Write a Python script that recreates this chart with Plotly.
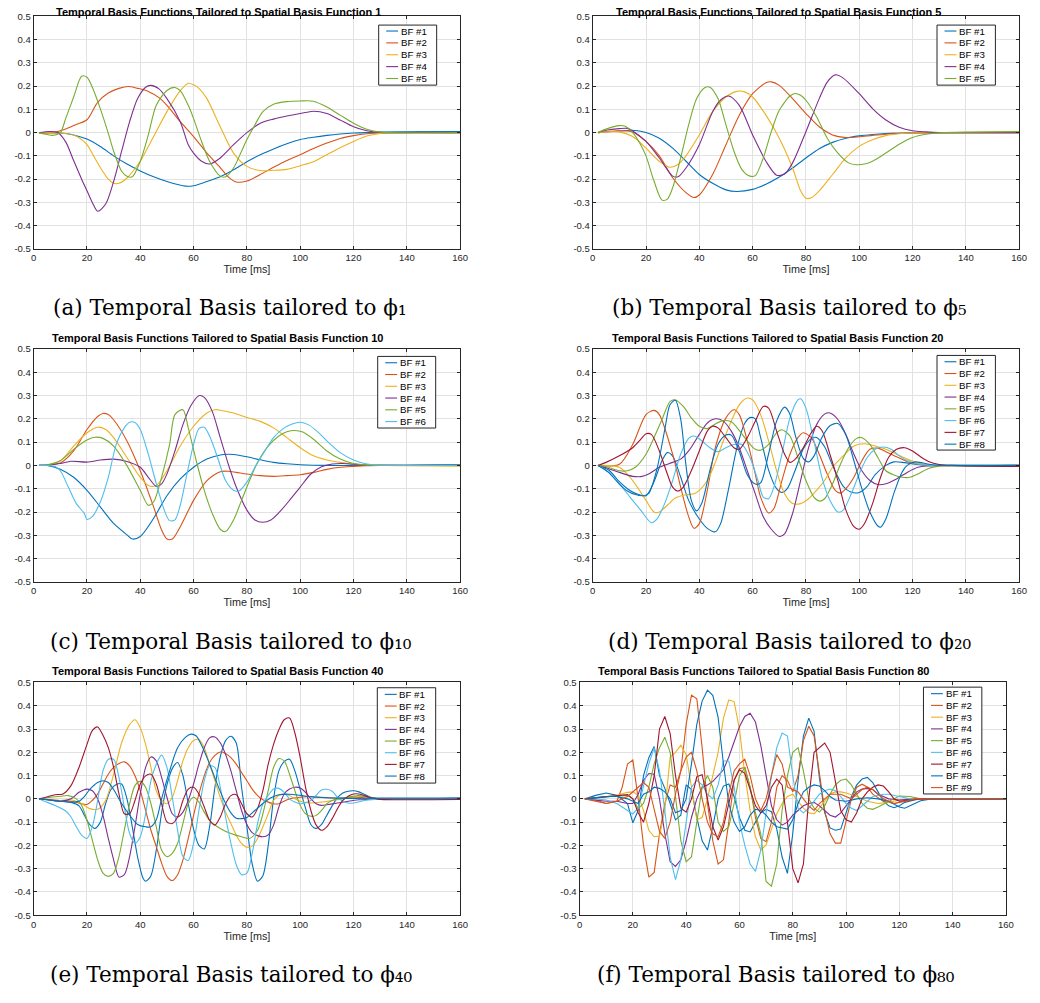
import plotly.graph_objects as go

# ---------------------------------------------------------------------------
# Temporal basis functions (time in ms, amplitude), one list per basis function
# ---------------------------------------------------------------------------

# Spatial basis function 1
a_bf1 = [(2,0),(10,-0.002),(15,-0.01),(20,-0.028),(25,-0.06),(30,-0.1),(35,-0.135),(40,-0.165),(45,-0.19),(50,-0.21),(57,-0.23),(60,-0.228),(65,-0.21),(70,-0.19),(75,-0.16),(80,-0.125),(85,-0.095),(90,-0.07),(95,-0.048),(100,-0.03),(105,-0.02),(110,-0.012),(115,-0.006),(120,-0.002),(130,0.002),(145,0.004),(160,0.004)]
a_bf2 = [(2,0),(8,0.002),(12,0.015),(16,0.035),(20,0.055),(24,0.13),(28,0.17),(32,0.19),(35.5,0.198),(39,0.19),(43,0.177),(47,0.15),(50,0.117),(55,0.047),(60,-0.017),(65,-0.088),(70,-0.15),(73,-0.19),(76,-0.212),(80,-0.208),(85,-0.18),(90,-0.149),(95,-0.12),(100,-0.095),(105,-0.068),(110,-0.045),(115,-0.025),(120,-0.013),(125,-0.005),(130,-0.001),(160,0)]
a_bf3 = [(2,0),(10,-0.002),(15,-0.01),(18,-0.03),(20,-0.052),(23,-0.11),(25,-0.15),(28,-0.2),(30,-0.218),(32,-0.218),(35,-0.195),(38,-0.155),(40,-0.123),(45,-0.017),(50,0.09),(55,0.18),(58,0.212),(60,0.205),(62,0.19),(65,0.146),(70,0.025),(75,-0.088),(80,-0.145),(85,-0.163),(90,-0.162),(95,-0.158),(100,-0.142),(105,-0.125),(110,-0.095),(115,-0.065),(120,-0.038),(125,-0.015),(130,-0.004),(135,0),(160,0)]
a_bf4 = [(2,0),(6,0.005),(9,0.0),(12,-0.04),(15,-0.12),(18,-0.2),(20,-0.25),(22,-0.3),(24,-0.338),(27,-0.307),(30,-0.21),(33,-0.08),(36,0.047),(39,0.146),(42,0.195),(44,0.203),(47,0.188),(50,0.146),(55,0.047),(58,-0.052),(60,-0.088),(63,-0.123),(66,-0.135),(70,-0.109),(75,-0.052),(80,0.0),(85,0.04),(90,0.058),(95,0.071),(100,0.082),(105,0.092),(110,0.082),(115,0.054),(120,0.025),(125,0.008),(130,0.001),(160,0)]
a_bf5 = [(2,0),(5,-0.008),(7,-0.012),(10,0.0),(12,0.06),(15,0.153),(18,0.242),(20,0.238),(22,0.195),(25,0.103),(28,-0.003),(30,-0.08),(33,-0.166),(35,-0.187),(37,-0.19),(40,-0.123),(43,-0.01),(46,0.117),(50,0.181),(53,0.194),(55,0.18),(58,0.117),(60,0.06),(63,-0.038),(66,-0.123),(70,-0.187),(72,-0.19),(75,-0.152),(78,-0.08),(80,-0.03),(83,0.033),(86,0.09),(90,0.122),(95,0.133),(100,0.136),(105,0.135),(110,0.11),(115,0.075),(120,0.04),(125,0.014),(130,0.002),(160,0)]

# Spatial basis function 5
b_bf1 = [(2,0),(10,0.007),(15,0.01),(20,0.0),(25,-0.024),(30,-0.067),(35,-0.123),(40,-0.18),(45,-0.218),(50,-0.246),(54,-0.253),(60,-0.244),(65,-0.222),(70,-0.191),(75,-0.152),(80,-0.109),(85,-0.069),(90,-0.042),(95,-0.024),(100,-0.014),(105,-0.008),(110,-0.004),(120,-0.001),(130,0),(160,0)]
b_bf2 = [(2,0),(10,0.008),(15,0.003),(20,-0.038),(25,-0.1),(30,-0.194),(35,-0.258),(38,-0.279),(40,-0.268),(45,-0.18),(50,-0.052),(55,0.075),(60,0.167),(65,0.214),(67,0.218),(70,0.203),(75,0.146),(80,0.082),(85,0.025),(90,-0.01),(95,-0.021),(100,-0.018),(105,-0.012),(110,-0.007),(120,-0.002),(130,0),(160,0)]
b_bf3 = [(2,0),(10,0.003),(15,-0.017),(20,-0.067),(25,-0.123),(29,-0.149),(32,-0.137),(35,-0.1),(40,-0.01),(45,0.09),(50,0.153),(54,0.177),(57,0.175),(60,0.153),(65,0.075),(70,-0.024),(75,-0.152),(78,-0.25),(80,-0.282),(82,-0.28),(85,-0.25),(90,-0.18),(95,-0.109),(100,-0.059),(105,-0.031),(110,-0.013),(115,-0.005),(120,-0.002),(130,0),(160,0)]
b_bf4 = [(2,0),(5,0.01),(10,0.017),(13,0.018),(15,0.007),(20,-0.038),(25,-0.109),(30,-0.187),(32,-0.19),(35,-0.152),(40,-0.052),(45,0.09),(48,0.14),(51,0.157),(55,0.117),(60,-0.01),(65,-0.123),(69,-0.183),(72,-0.178),(75,-0.13),(80,0.004),(85,0.146),(88,0.217),(91,0.248),(94,0.234),(100,0.167),(105,0.103),(110,0.054),(115,0.023),(120,0.008),(125,0.003),(130,0),(160,0)]
b_bf5 = [(2,0),(5,0.015),(10,0.03),(12,0.028),(15,0.0),(18,-0.052),(20,-0.1),(23,-0.208),(26,-0.29),(28,-0.286),(30,-0.237),(33,-0.109),(36,0.033),(39,0.146),(42,0.193),(44,0.195),(47,0.146),(50,0.033),(53,-0.08),(56,-0.159),(59,-0.187),(61,-0.185),(64,-0.109),(67,0.004),(70,0.096),(74,0.157),(76,0.168),(78,0.16),(80,0.139),(84,0.068),(88,-0.024),(92,-0.088),(96,-0.13),(99,-0.138),(102,-0.135),(105,-0.123),(110,-0.088),(115,-0.05),(120,-0.021),(125,-0.007),(130,-0.001),(160,0.004)]

# Spatial basis function 10
c_bf1 = [(2,0),(5,0),(10,-0.016),(15,-0.051),(20,-0.107),(25,-0.178),(30,-0.249),(35,-0.298),(37,-0.316),(40,-0.305),(45,-0.227),(50,-0.13),(55,-0.058),(60,-0.008),(65,0.027),(70,0.045),(73,0.048),(75,0.047),(80,0.037),(85,0.024),(90,0.013),(95,0.007),(100,0.003),(110,0.0),(160,0.004)]
c_bf2 = [(2,0),(5,0.002),(10,0.01),(15,0.062),(20,0.154),(24,0.21),(26,0.223),(28,0.218),(30,0.196),(35,0.105),(40,-0.023),(45,-0.178),(48,-0.277),(50,-0.316),(52,-0.316),(55,-0.263),(60,-0.15),(65,-0.065),(70,-0.027),(73,-0.025),(76,-0.03),(80,-0.037),(85,-0.044),(90,-0.047),(95,-0.044),(100,-0.04),(105,-0.03),(110,-0.017),(115,-0.008),(120,-0.004),(125,-0.001),(130,0),(160,0)]
c_bf3 = [(2,0),(5,0.003),(10,0.02),(15,0.083),(20,0.14),(24,0.164),(27,0.154),(30,0.119),(35,0.034),(40,-0.051),(43,-0.086),(46,-0.086),(50,-0.023),(55,0.083),(60,0.168),(65,0.225),(68,0.239),(70,0.237),(75,0.225),(80,0.206),(85,0.189),(90,0.161),(95,0.119),(100,0.076),(105,0.041),(110,0.023),(115,0.013),(120,0.006),(125,0.002),(130,0),(160,-0.003)]
c_bf4 = [(2,0),(5,0.002),(10,0.008),(14,0.018),(20,0.014),(25,0.023),(30,0.027),(35,0.017),(40,-0.008),(43,-0.051),(46,-0.09),(48,-0.079),(50,-0.037),(53,0.062),(56,0.175),(59,0.257),(62,0.299),(64,0.292),(67,0.232),(70,0.119),(73,0.006),(76,-0.093),(80,-0.192),(83,-0.234),(86,-0.244),(89,-0.234),(92,-0.203),(96,-0.15),(100,-0.093),(104,-0.037),(108,-0.006),(112,0.006),(116,0.008),(120,0.005),(125,0.002),(130,0),(160,0)]
c_bf5 = [(2,0),(5,0.002),(10,0.02),(15,0.069),(20,0.109),(23,0.121),(26,0.116),(30,0.083),(35,-0.001),(40,-0.107),(43,-0.171),(45,-0.157),(48,-0.051),(51,0.09),(53,0.218),(56,0.239),(58,0.161),(61,0.02),(64,-0.107),(67,-0.206),(70,-0.274),(72,-0.284),(75,-0.234),(78,-0.15),(81,-0.065),(84,0.013),(88,0.083),(92,0.126),(95,0.144),(98,0.15),(101,0.143),(105,0.112),(110,0.062),(115,0.027),(120,0.008),(125,0.002),(130,0),(160,0)]
c_bf6 = [(2,0),(5,0),(8,-0.005),(10,-0.023),(13,-0.093),(16,-0.164),(19,-0.206),(20,-0.232),(22,-0.22),(25,-0.157),(28,-0.051),(31,0.09),(34,0.161),(36,0.185),(38,0.184),(40,0.154),(43,0.048),(46,-0.078),(49,-0.192),(51,-0.237),(53,-0.234),(55,-0.171),(57,-0.065),(60,0.09),(62,0.158),(64,0.164),(66,0.126),(69,0.034),(72,-0.065),(75,-0.107),(77,-0.11),(80,-0.072),(83,-0.008),(86,0.048),(90,0.119),(94,0.161),(97,0.178),(100,0.185),(103,0.175),(107,0.14),(110,0.105),(115,0.055),(120,0.023),(125,0.006),(130,0.001),(160,0)]

# Spatial basis function 20
d_bf1 = [(2,0),(6,-0.02),(10,-0.07),(13,-0.1),(16,-0.12),(20,-0.13),(23,-0.07),(26,0.02),(28,0.055),(30,0.04),(33,-0.05),(36,-0.15),(40,-0.23),(43,-0.27),(46,-0.285),(48,-0.25),(51,-0.1),(54,0.07),(57,0.18),(59,0.205),(61,0.2),(63,0.12),(66,-0.02),(69,-0.1),(71,-0.116),(73,-0.1),(76,-0.02),(79,0.07),(82,0.115),(84,0.12),(87,0.08),(90,0.0),(94,-0.09),(97,-0.115),(100,-0.116),(103,-0.09),(106,-0.04),(110,0.0),(113,0.015),(117,0.012),(121,0.005),(126,0),(160,0)]
d_bf2 = [(2,0),(10,0.005),(15,0.09),(20,0.218),(23,0.236),(25,0.218),(30,0.048),(33,-0.093),(36,-0.22),(38,-0.27),(40,-0.25),(43,-0.107),(46,0.076),(50,0.204),(53,0.239),(55,0.218),(58,0.105),(61,-0.037),(63,-0.136),(66,-0.204),(68,-0.185),(71,-0.065),(74,0.048),(77,0.119),(79,0.14),(82,0.119),(85,0.048),(88,-0.037),(91,-0.107),(93,-0.119),(95,-0.1),(98,-0.051),(101,0.02),(104,0.069),(107,0.074),(110,0.059),(114,0.037),(118,0.016),(122,0.006),(126,0.002),(130,0),(160,-0.005)]
d_bf3 = [(2,0),(10,-0.008),(15,-0.065),(20,-0.15),(23,-0.2),(25,-0.2),(28,-0.171),(31,-0.14),(35,-0.126),(38,-0.122),(40,-0.107),(43,-0.065),(46,0.013),(49,0.105),(52,0.19),(55,0.26),(58,0.289),(60,0.281),(63,0.218),(66,0.105),(69,-0.023),(72,-0.122),(75,-0.164),(78,-0.164),(81,-0.143),(84,-0.107),(87,-0.065),(90,-0.008),(94,0.041),(98,0.083),(102,0.093),(106,0.083),(110,0.069),(114,0.048),(118,0.027),(122,0.01),(126,0.003),(130,0),(160,0)]
d_bf4 = [(2,0),(5,-0.01),(10,-0.03),(15,-0.047),(18,-0.048),(21,-0.037),(25,-0.008),(30,0.013),(33,0.027),(36,0.062),(40,0.133),(43,0.182),(46,0.2),(49,0.19),(52,0.147),(55,0.076),(58,-0.023),(61,-0.122),(64,-0.22),(67,-0.274),(70,-0.305),(72,-0.294),(75,-0.206),(78,-0.065),(81,0.076),(84,0.175),(87,0.22),(89,0.225),(92,0.197),(95,0.133),(98,0.048),(101,-0.023),(104,-0.065),(107,-0.082),(110,-0.079),(114,-0.058),(118,-0.03),(122,-0.008),(126,-0.002),(130,0),(160,0)]
d_bf5 = [(2,0),(5,-0.005),(10,-0.023),(13,-0.023),(16,-0.008),(20,0.048),(23,0.119),(26,0.197),(29,0.274),(31,0.281),(34,0.253),(37,0.204),(40,0.168),(43,0.158),(46,0.178),(49,0.192),(52,0.187),(55,0.15),(58,0.105),(61,0.069),(63,0.065),(66,0.09),(69,0.14),(71,0.153),(74,0.126),(77,0.034),(80,-0.065),(83,-0.136),(85,-0.153),(87,-0.143),(90,-0.079),(93,0.006),(96,0.076),(99,0.116),(101,0.119),(104,0.09),(107,0.034),(110,-0.023),(113,-0.041),(116,-0.051),(119,-0.051),(122,-0.037),(126,-0.013),(130,-0.003),(135,0),(160,0)]
d_bf6 = [(2,0),(5,-0.02),(10,-0.079),(14,-0.136),(18,-0.192),(22,-0.246),(24,-0.232),(27,-0.164),(30,-0.065),(33,0.048),(36,0.116),(38,0.126),(41,0.105),(44,0.076),(47,0.059),(50,0.076),(53,0.09),(56,0.09),(59,0.034),(62,-0.065),(64,-0.136),(66,-0.143),(68,-0.093),(71,0.048),(74,0.204),(77,0.281),(78,0.286),(80,0.246),(83,0.105),(86,-0.051),(89,-0.15),(92,-0.2),(94,-0.192),(97,-0.122),(100,-0.037),(103,0.034),(106,0.069),(109,0.079),(112,0.069),(115,0.041),(118,0.02),(122,0.006),(126,0.001),(130,0),(160,0)]
d_bf7 = [(2,0),(5,0.013),(10,0.041),(15,0.076),(18,0.112),(20,0.136),(22,0.133),(25,0.062),(28,-0.037),(30,-0.093),(32,-0.11),(34,-0.093),(37,-0.023),(40,0.062),(43,0.147),(45,0.168),(47,0.161),(50,0.119),(53,0.076),(55,0.069),(58,0.119),(61,0.19),(64,0.253),(66,0.246),(69,0.147),(72,0.048),(74,0.013),(76,0.027),(79,0.076),(82,0.14),(84,0.168),(86,0.15),(89,0.048),(92,-0.065),(95,-0.192),(98,-0.263),(100,-0.274),(102,-0.249),(105,-0.164),(108,-0.051),(111,0.034),(114,0.069),(117,0.076),(120,0.062),(123,0.037),(126,0.017),(130,0.004),(135,0),(160,-0.005)]
d_bf8 = [(2,0),(6,-0.03),(10,-0.08),(13,-0.11),(16,-0.125),(19,-0.13),(21,-0.12),(24,-0.02),(27,0.15),(29,0.26),(31,0.28),(33,0.2),(35,0.0),(37,-0.15),(39,-0.195),(41,-0.16),(44,-0.02),(47,0.09),(50,0.13),(52,0.13),(55,0.06),(58,-0.04),(61,-0.08),(63,-0.075),(66,0.05),(69,0.19),(72,0.25),(74,0.22),(76,0.13),(79,0.03),(81,0.015),(83,0.04),(86,0.12),(89,0.17),(92,0.18),(95,0.13),(98,0.02),(101,-0.1),(104,-0.2),(107,-0.26),(108,-0.265),(110,-0.23),(113,-0.12),(116,-0.03),(118,0.0),(121,0.015),(124,0.01),(128,0.002),(160,0)]

# Spatial basis function 40
e_bf1 = [(2,0),(6,-0.005),(10,-0.01),(14,-0.015),(17,-0.03),(19,-0.07),(21,-0.11),(23,-0.127),(25,-0.1),(27,-0.02),(29,0.04),(31,0.062),(33,0.064),(35,0.0),(37,-0.12),(39,-0.25),(41,-0.34),(42,-0.354),(44,-0.33),(46,-0.22),(48,-0.06),(50,0.06),(52,0.13),(54,0.156),(56,0.1),(58,-0.02),(60,-0.13),(62,-0.2),(64,-0.215),(66,-0.12),(68,0.05),(70,0.18),(72,0.25),(74,0.269),(76,0.24),(78,0.05),(80,-0.12),(82,-0.28),(84,-0.354),(86,-0.33),(88,-0.2),(90,0.0),(92,0.12),(94,0.16),(96,0.17),(98,0.12),(100,0.04),(102,-0.04),(104,-0.11),(106,-0.127),(108,-0.11),(110,-0.07),(112,-0.03),(114,0.005),(116,0.025),(118,0.033),(120,0.035),(122,0.03),(124,0.02),(127,0.005),(130,0.0),(160,0.003)]
e_bf2 = [(2,0),(5,-0.003),(10,-0.007),(14,-0.01),(17,-0.018),(20,-0.024),(22,-0.007),(24,0.021),(26,0.064),(28,0.106),(30,0.135),(32,0.152),(34,0.159),(36,0.142),(38,0.099),(40,0.035),(42,-0.05),(44,-0.135),(46,-0.205),(48,-0.276),(50,-0.333),(52,-0.351),(54,-0.326),(56,-0.262),(58,-0.17),(60,-0.071),(62,0.021),(64,0.099),(66,0.156),(68,0.187),(70,0.201),(72,0.195),(74,0.177),(76,0.149),(78,0.113),(80,0.078),(82,0.042),(84,0.014),(86,-0.004),(88,-0.014),(90,-0.021),(92,-0.021),(94,-0.01),(96,0.0),(100,0.007),(104,0.01),(108,0.007),(112,0.004),(116,0.003),(120,0.007),(124,0.005),(128,0.001),(132,0),(160,0)]
e_bf3 = [(2,0),(5,-0.002),(10,-0.007),(14,-0.004),(18,-0.021),(21,-0.042),(24,-0.045),(27,-0.007),(30,0.106),(33,0.241),(36,0.319),(38,0.34),(40,0.305),(42,0.234),(44,0.135),(46,0.035),(48,-0.007),(50,-0.021),(52,0.007),(54,0.078),(56,0.163),(58,0.22),(60,0.251),(62,0.255),(64,0.22),(66,0.149),(68,0.078),(70,0.007),(72,-0.057),(74,-0.106),(76,-0.156),(78,-0.191),(80,-0.208),(82,-0.203),(84,-0.17),(86,-0.12),(88,-0.064),(90,-0.007),(92,0.014),(94,0.021),(96,0.014),(98,0.0),(100,-0.01),(104,-0.018),(108,-0.014),(112,-0.007),(116,0.0),(120,0.007),(124,0.01),(128,0.003),(132,0),(160,0)]
e_bf4 = [(2,0),(5,-0.003),(10,-0.01),(14,0.0),(17,0.028),(20,0.042),(22,0.035),(24,0.0),(26,-0.071),(28,-0.17),(30,-0.262),(32,-0.336),(34,-0.326),(36,-0.248),(38,-0.12),(40,0.021),(42,0.135),(44,0.18),(46,0.163),(48,0.092),(50,0.007),(52,-0.064),(54,-0.078),(56,-0.057),(58,-0.007),(60,0.064),(62,0.149),(64,0.22),(66,0.262),(68,0.266),(70,0.241),(72,0.191),(74,0.12),(76,0.035),(78,-0.05),(80,-0.11),(82,-0.145),(84,-0.158),(86,-0.163),(88,-0.155),(90,-0.113),(92,-0.035),(94,0.021),(96,0.042),(98,0.05),(100,0.047),(102,0.028),(104,0.0),(106,-0.021),(108,-0.028),(110,-0.025),(114,-0.018),(118,-0.01),(122,-0.004),(126,-0.002),(130,0),(160,0)]
e_bf5 = [(2,0),(5,0.005),(10,0.011),(13,0.014),(16,0.0),(18,-0.028),(20,-0.092),(22,-0.177),(24,-0.262),(26,-0.319),(28,-0.333),(30,-0.319),(32,-0.248),(34,-0.135),(36,-0.021),(38,0.057),(40,0.075),(42,0.05),(44,-0.021),(46,-0.12),(48,-0.22),(50,-0.248),(52,-0.234),(54,-0.191),(56,-0.106),(58,-0.021),(60,0.007),(62,-0.014),(64,-0.057),(66,-0.092),(70,-0.127),(74,-0.149),(78,-0.163),(81,-0.17),(84,-0.135),(86,-0.064),(88,0.035),(90,0.135),(92,0.173),(94,0.163),(96,0.106),(98,0.035),(100,-0.028),(102,-0.064),(104,-0.075),(106,-0.071),(108,-0.05),(110,-0.021),(112,-0.007),(114,0.0),(118,0.007),(122,0.014),(126,0.007),(130,0),(160,0)]
e_bf6 = [(2,0),(4,-0.01),(8,-0.028),(12,-0.052),(14,-0.078),(16,-0.12),(18,-0.156),(20,-0.17),(22,-0.12),(24,-0.007),(26,0.12),(28,0.17),(30,0.17),(32,0.092),(34,-0.035),(36,-0.149),(38,-0.191),(40,-0.163),(42,-0.064),(44,0.078),(46,0.149),(48,0.188),(50,0.135),(52,0.007),(54,-0.135),(56,-0.248),(58,-0.265),(60,-0.191),(62,-0.05),(64,0.078),(66,0.142),(68,0.135),(70,0.05),(72,-0.078),(74,-0.191),(76,-0.283),(78,-0.326),(80,-0.319),(82,-0.234),(84,-0.106),(86,-0.021),(88,0.014),(90,0.042),(92,0.045),(94,0.028),(96,0.0),(98,-0.014),(100,-0.021),(104,-0.007),(108,0.038),(110,0.041),(112,0.033),(114,0.007),(116,-0.01),(118,-0.018),(120,-0.018),(124,-0.007),(128,-0.002),(132,0),(160,0)]
e_bf7 = [(2,0),(5,0.008),(8,0.018),(11,0.021),(14,0.057),(17,0.135),(20,0.234),(22,0.293),(24,0.309),(26,0.273),(28,0.22),(30,0.135),(32,0.021),(34,-0.064),(36,-0.064),(38,-0.007),(40,0.064),(42,0.099),(44,0.106),(46,0.064),(48,-0.021),(50,-0.099),(52,-0.106),(54,-0.078),(56,-0.007),(58,0.042),(60,0.05),(62,0.021),(64,-0.035),(66,-0.092),(68,-0.113),(70,-0.078),(72,-0.021),(74,0.014),(76,0.018),(78,-0.021),(80,-0.064),(82,-0.078),(84,-0.042),(86,0.035),(88,0.149),(90,0.234),(92,0.297),(94,0.34),(96,0.347),(98,0.283),(100,0.177),(102,0.05),(104,-0.05),(106,-0.113),(108,-0.135),(110,-0.12),(112,-0.085),(114,-0.042),(116,-0.007),(118,0.011),(120,0.021),(122,0.021),(124,0.014),(126,0.007),(128,0.002),(130,-0.002),(160,-0.003)]
e_bf8 = [(2,0),(6,-0.005),(10,-0.01),(14,-0.014),(17,-0.01),(19,0.01),(21,0.04),(24,0.07),(26,0.078),(28,0.07),(30,0.04),(33,-0.02),(36,-0.07),(39,-0.11),(42,-0.12),(44,-0.12),(46,-0.09),(48,0.0),(51,0.12),(54,0.22),(57,0.265),(59,0.278),(61,0.27),(63,0.23),(66,0.15),(69,0.06),(72,-0.02),(74,-0.06),(76,-0.083),(78,-0.085),(80,-0.08),(83,-0.05),(86,-0.02),(89,0.005),(92,0.018),(96,0.02),(100,0.015),(105,0.008),(110,0.005),(115,0.003),(120,0.002),(130,0.003),(160,0.003)]

# Spatial basis function 80
f_bf1 = [(2,0),(6,0.015),(10,0.025),(14,0.015),(18,-0.02),(20,-0.103),(22,-0.05),(24,0.1),(26,0.177),(28,0.225),(30,0.1),(32,0.045),(34,-0.02),(36,-0.09),(38,-0.07),(40,0.06),(42,0.04),(44,-0.08),(46,-0.18),(48,-0.22),(50,-0.12),(52,0.0),(54,0.055),(56,0.064),(58,0.01),(60,-0.08),(62,-0.135),(64,-0.142),(66,-0.1),(68,-0.06),(70,-0.045),(72,-0.055),(74,-0.13),(76,-0.25),(78,-0.32),(80,-0.15),(82,0.08),(84,0.27),(86,0.347),(88,0.29),(90,0.09),(92,-0.06),(94,-0.125),(96,-0.135),(98,-0.13),(100,-0.06),(102,0.01),(104,0.06),(106,0.085),(108,0.092),(110,0.07),(112,0.03),(114,-0.01),(116,-0.03),(118,-0.038),(120,-0.03),(122,-0.015),(126,-0.004),(130,0),(160,0)]
f_bf2 = [(2,0),(6,-0.005),(10,-0.02),(14,-0.01),(16,0.05),(18,0.15),(20,0.167),(22,0.0),(24,-0.2),(26,-0.336),(28,-0.316),(30,-0.15),(32,-0.02),(34,0.06),(36,0.05),(38,0.12),(40,0.32),(42,0.446),(44,0.43),(46,0.22),(48,-0.02),(50,-0.18),(52,-0.28),(54,-0.262),(56,-0.1),(58,0.08),(60,0.13),(62,0.135),(64,0.05),(66,-0.08),(68,-0.17),(70,-0.184),(72,-0.1),(74,0.05),(76,0.1),(78,0.08),(80,0.03),(82,0.1),(84,0.25),(86,0.312),(88,0.27),(90,0.1),(92,-0.05),(94,-0.15),(96,-0.19),(98,-0.19),(100,-0.1),(102,0.0),(104,0.05),(106,0.063),(108,0.05),(110,0.02),(114,-0.01),(118,-0.02),(122,-0.01),(126,-0.002),(130,0),(160,0)]
f_bf3 = [(2,0),(6,0.005),(10,0.01),(14,0.015),(18,0.028),(20,0.03),(22,0.015),(24,-0.05),(26,-0.135),(28,-0.163),(30,-0.16),(32,-0.05),(34,0.18),(36,0.2),(38,0.23),(40,0.19),(42,0.05),(44,-0.09),(46,-0.08),(48,0.0),(50,0.1),(52,0.2),(54,0.347),(56,0.425),(58,0.418),(60,0.3),(62,0.106),(64,-0.05),(66,-0.163),(68,-0.22),(70,-0.198),(72,-0.13),(74,-0.064),(76,-0.02),(78,0.01),(80,0.02),(82,-0.01),(84,-0.04),(86,-0.06),(88,-0.065),(90,-0.04),(92,-0.01),(94,0.021),(96,0.03),(98,0.03),(100,0.025),(104,0.01),(108,-0.01),(112,-0.02),(116,-0.015),(120,-0.005),(126,0),(160,0)]
f_bf4 = [(2,0),(6,-0.005),(10,-0.01),(14,-0.01),(18,-0.02),(20,-0.02),(22,0.02),(24,0.08),(26,0.109),(28,0.106),(30,0.0),(32,-0.15),(34,-0.27),(36,-0.29),(38,-0.262),(40,-0.18),(42,-0.08),(44,0.0),(46,0.05),(48,0.06),(50,0.075),(52,0.1),(54,0.125),(56,0.18),(58,0.25),(60,0.31),(62,0.354),(64,0.368),(66,0.33),(68,0.23),(70,0.1),(72,-0.03),(74,-0.09),(76,-0.113),(78,-0.1),(80,-0.07),(82,-0.05),(84,-0.03),(86,-0.02),(88,-0.015),(90,-0.03),(92,-0.05),(94,-0.07),(96,-0.078),(98,-0.06),(100,-0.03),(102,0.0),(104,0.03),(106,0.042),(108,0.045),(110,0.04),(112,0.02),(116,0.0),(120,-0.005),(126,0),(160,0)]
f_bf5 = [(2,0),(6,0.005),(10,0.01),(14,0.012),(18,0.014),(20,0.0),(22,-0.042),(24,-0.02),(26,0.05),(28,0.15),(30,0.22),(32,0.265),(34,0.2),(36,0.0),(38,-0.18),(40,-0.27),(42,-0.25),(44,-0.1),(46,0.05),(48,0.1),(50,0.05),(52,-0.1),(54,-0.14),(56,-0.12),(58,-0.02),(60,0.1),(62,0.135),(64,0.05),(66,-0.06),(68,-0.15),(70,-0.355),(72,-0.375),(74,-0.28),(76,-0.05),(78,0.1),(80,0.2),(82,0.22),(84,0.12),(86,0.0),(88,-0.04),(90,-0.057),(92,-0.03),(94,0.02),(96,0.06),(98,0.08),(100,0.085),(102,0.06),(104,0.02),(106,-0.02),(108,-0.04),(110,-0.045),(112,-0.035),(116,-0.01),(120,0.012),(124,0.01),(128,0),(160,0)]
f_bf6 = [(2,0),(6,0.0),(10,-0.005),(14,-0.02),(18,-0.05),(20,-0.065),(22,-0.04),(24,0.05),(26,0.15),(28,0.22),(30,0.12),(32,-0.05),(34,-0.25),(36,-0.347),(38,-0.262),(40,-0.1),(42,0.05),(44,0.08),(46,0.06),(48,0.02),(50,0.0),(52,0.06),(54,0.163),(56,0.163),(58,0.05),(60,-0.1),(62,-0.2),(64,-0.28),(66,-0.312),(68,-0.22),(70,-0.05),(72,0.1),(74,0.22),(76,0.283),(78,0.27),(80,0.1),(82,-0.04),(84,-0.06),(86,-0.04),(88,-0.01),(90,0.02),(92,0.035),(94,0.042),(96,0.035),(98,0.01),(100,-0.02),(102,-0.04),(104,-0.05),(106,-0.03),(110,0.01),(114,0.02),(116,0.02),(120,0.01),(124,0),(160,0)]
f_bf7 = [(2,0),(6,0.005),(10,0.01),(14,0.015),(18,0.018),(20,0.0),(22,-0.06),(24,-0.1),(26,-0.02),(28,0.1),(30,0.3),(32,0.354),(34,0.28),(36,0.1),(38,-0.04),(40,-0.057),(42,0.0),(44,0.095),(46,0.104),(48,0.0),(50,-0.12),(52,-0.177),(54,-0.12),(56,-0.02),(58,0.08),(60,0.125),(62,0.11),(64,0.04),(66,-0.03),(68,-0.06),(70,-0.03),(72,0.05),(74,0.085),(76,0.06),(78,-0.1),(80,-0.3),(82,-0.361),(84,-0.28),(86,0.0),(88,0.2),(90,0.22),(92,0.24),(94,0.2),(96,0.07),(98,-0.05),(100,-0.09),(102,-0.1),(104,-0.06),(106,0.0),(108,0.03),(110,0.05),(112,0.06),(114,0.055),(116,0.03),(118,0.0),(120,-0.01),(124,-0.005),(128,0),(160,0)]
f_bf8 = [(2,0),(6,0.005),(10,0.01),(14,0.01),(18,0.0),(22,-0.02),(24,0.02),(26,0.03),(28,0.05),(30,0.045),(32,0.03),(34,0.0),(36,-0.06),(38,-0.05),(40,0.0),(42,0.15),(44,0.32),(46,0.42),(48,0.467),(50,0.445),(52,0.35),(54,0.15),(56,-0.02),(58,-0.1),(60,-0.14),(62,-0.12),(64,-0.07),(66,-0.045),(68,-0.05),(70,-0.07),(72,-0.1),(74,-0.12),(76,-0.125),(78,-0.13),(80,-0.09),(82,-0.02),(84,0.03),(86,0.05),(88,0.06),(90,0.055),(92,0.035),(94,0.01),(96,-0.005),(100,-0.01),(104,0.0),(108,0.005),(112,0.0),(116,-0.01),(120,-0.035),(122,-0.04),(124,-0.03),(128,-0.008),(132,0),(160,0)]
f_bf9 = [(2,0),(6,-0.01),(10,-0.02),(14,-0.01),(18,0.01),(22,0.05),(24,0.07),(26,0.05),(28,-0.05),(30,-0.14),(32,-0.17),(34,-0.1),(36,0.02),(38,0.12),(40,0.18),(42,0.2),(44,0.12),(46,0.0),(48,-0.1),(50,-0.15),(52,-0.163),(54,-0.1),(56,0.02),(58,0.12),(60,0.15),(62,0.17),(64,0.1),(66,0.0),(68,-0.05),(70,0.0),(72,0.1),(74,0.19),(76,0.15),(78,0.05),(80,0.04),(82,0.03),(84,0.0),(86,-0.03),(88,-0.05),(90,-0.02),(94,0.02),(98,0.02),(102,0.0),(106,0.04),(108,0.05),(110,0.04),(114,0.0),(118,-0.02),(122,-0.01),(126,0),(160,0)]

# MATLAB default line colour order
line_colors = ['#0072BD', '#D95319', '#EDB120', '#7E2F8E', '#77AC30', '#4DBEEE', '#A2142F']

x_ticks = [0, 20, 40, 60, 80, 100, 120, 140, 160]
y_ticks = [-0.5, -0.4, -0.3, -0.2, -0.1, 0, 0.1, 0.2, 0.3, 0.4, 0.5]
y_tick_text = ['-0.5', '-0.4', '-0.3', '-0.2', '-0.1', '0', '0.1', '0.2', '0.3', '0.4', '0.5']

spatial_ids = [1, 5, 10, 20, 40, 80]
spatial_subscripts = ['₁', '₅', '₁₀', '₂₀', '₄₀', '₈₀']
panel_letters = ['a', 'b', 'c', 'd', 'e', 'f']
panel_series = [
    [a_bf1, a_bf2, a_bf3, a_bf4, a_bf5],
    [b_bf1, b_bf2, b_bf3, b_bf4, b_bf5],
    [c_bf1, c_bf2, c_bf3, c_bf4, c_bf5, c_bf6],
    [d_bf1, d_bf2, d_bf3, d_bf4, d_bf5, d_bf6, d_bf7, d_bf8],
    [e_bf1, e_bf2, e_bf3, e_bf4, e_bf5, e_bf6, e_bf7, e_bf8],
    [f_bf1, f_bf2, f_bf3, f_bf4, f_bf5, f_bf6, f_bf7, f_bf8, f_bf9],
]

# ---------------------------------------------------------------------------
# Page geometry (pixels on a 1040 x 1003 page)
# ---------------------------------------------------------------------------
W, H = 1040, 1003
# plot box: left, right, top, bottom
boxes = [
    (31, 462, 10.3, 245.7),
    (596, 1027, 10.3, 245.7),
    (31, 462, 346.7, 582.3),
    (596, 1027, 346.7, 582.3),
    (31, 462, 684, 919.3),
    (582.7, 1013.7, 684, 919.3),
]
title_pos = [(217.5, 6.0), (783.3, 6.0), (217.5, 335.5), (782.8, 335.5), (217.5, 672.2), (769.5, 672.2)]
caption_pos = [(229.5, 305), (795, 305), (230.5, 642.3), (795, 642.3), (230.5, 979), (781.7, 979)]
# legend box: left, top, right, bottom, first row centre, row step
legend_boxes = [
    (379.7, 19.3, 438.3, 80.0, 25.3, 12.0),
    (944.0, 19.3, 1003.0, 80.0, 25.3, 12.0),
    (378.7, 354.3, 437.3, 426.7, 360.7, 11.9),
    (944.0, 353.3, 1003.0, 449.0, 359.7, 11.9),
    (378.3, 689.3, 437.3, 785.7, 696.0, 11.8),
    (930.3, 688.7, 989.3, 796.7, 695.3, 11.87),
]


def px(x):
    return x / W


def py(y):
    return 1 - y / H


AXIS_COLOR = '#262626'
GRID_COLOR = '#e2e2e2'
SANS = 'Liberation Sans, Arial, sans-serif'
SERIF = 'DejaVu Serif, serif'

fig = go.Figure()
layout = dict(
    width=W, height=H,
    margin=dict(l=0, r=0, t=0, b=0),
    paper_bgcolor='white', plot_bgcolor='white',
    showlegend=False,
)
shapes = []
annotations = []

for i, series in enumerate(panel_series):
    n = i + 1
    xa = 'x' if n == 1 else f'x{n}'
    ya = 'y' if n == 1 else f'y{n}'
    left, right, top, bottom = boxes[i]
    shape = 'linear' if panel_letters[i] == 'f' else 'spline'

    for k, pts in enumerate(series):
        t = [p[0] for p in pts]
        v = [p[1] for p in pts]
        line = dict(color=line_colors[k % len(line_colors)], width=1.1, shape=shape)
        if shape == 'spline':
            line['smoothing'] = 0.8
        fig.add_trace(go.Scatter(
            x=t, y=v, mode='lines', xaxis=xa, yaxis=ya,
            name=f'BF #{k + 1}', line=line, hoverinfo='x+y+name',
        ))

    common = dict(
        ticks='inside', ticklen=3, tickcolor=AXIS_COLOR, tickwidth=1,
        showline=True, linecolor=AXIS_COLOR, linewidth=1, mirror='ticks',
        showgrid=True, gridcolor=GRID_COLOR, gridwidth=1, zeroline=False,
        tickfont=dict(family=SANS, size=9.5, color=AXIS_COLOR),
    )
    layout['xaxis' if n == 1 else f'xaxis{n}'] = dict(
        common, domain=[px(left), px(right)], range=[0, 160],
        tickmode='array', tickvals=x_ticks, anchor=ya,
        title=dict(text='Time [ms]', font=dict(family=SANS, size=10.8, color=AXIS_COLOR), standoff=2),
    )
    layout['yaxis' if n == 1 else f'yaxis{n}'] = dict(
        common, domain=[py(bottom), py(top)], range=[-0.5, 0.5],
        tickmode='array', tickvals=y_ticks, ticktext=y_tick_text, anchor=xa,
    )

    # subplot title
    tx, ty = title_pos[i]
    annotations.append(dict(
        x=px(tx), y=py(ty), xref='paper', yref='paper', xanchor='center', yanchor='middle',
        text=f'<b>Temporal Basis Functions Tailored to Spatial Basis Function {spatial_ids[i]}</b>',
        showarrow=False, font=dict(family=SANS, size=11, color='black'),
    ))

    # caption below the panel
    cx, cy = caption_pos[i]
    annotations.append(dict(
        x=px(cx), y=py(cy), xref='paper', yref='paper', xanchor='center', yanchor='middle',
        text=f'({panel_letters[i]}) Temporal Basis tailored to ϕ{spatial_subscripts[i]}',
        showarrow=False, font=dict(family=SERIF, size=21.5, color='black'),
    ))

    # legend box
    lx0, ly0, lx1, ly1, first, step = legend_boxes[i]
    shapes.append(dict(
        type='rect', xref='paper', yref='paper',
        x0=px(lx0), x1=px(lx1), y0=py(ly1), y1=py(ly0),
        line=dict(color=AXIS_COLOR, width=1), fillcolor='white', layer='above',
    ))
    for k in range(len(series)):
        yy = first + k * step
        shapes.append(dict(
            type='line', xref='paper', yref='paper',
            x0=px(lx0 + 7.6), x1=px(lx0 + 19.6), y0=py(yy), y1=py(yy),
            line=dict(color=line_colors[k % len(line_colors)], width=1.1), layer='above',
        ))
        annotations.append(dict(
            x=px(lx0 + 20.3), y=py(yy), xref='paper', yref='paper',
            xanchor='left', yanchor='middle', text=f'BF #{k + 1}', showarrow=False,
            font=dict(family=SANS, size=9.7, color='black'),
        ))

layout['shapes'] = shapes
layout['annotations'] = annotations
fig.update_layout(**layout)
fig.write_html('out.html')
